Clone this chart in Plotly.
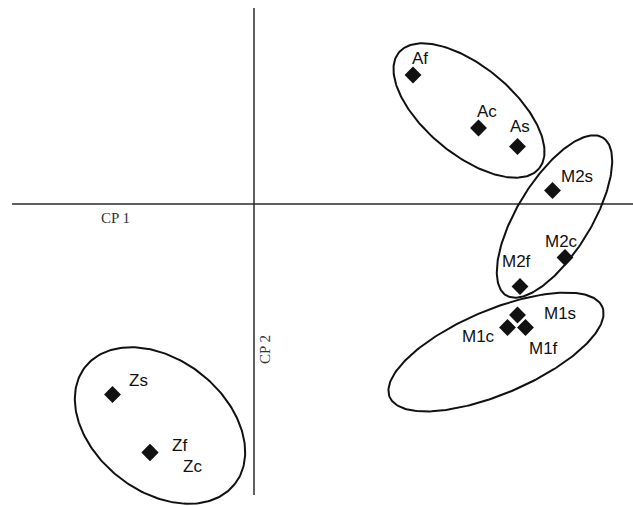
import numpy as np
import plotly.graph_objects as go

# ── data (CP1 / CP2 scores) ───────────────────────────────────
labels = ["Af", "Ac", "As", "M2s", "M2c", "M2f", "M1s", "M1c", "M1f", "Zs", "Zf", "Zc"]
cp1 = [3.18, 4.49, 5.27, 5.97, 6.22, 5.32, 5.27, 5.07, 5.43, -2.83, -2.08, -2.08]
cp2 = [2.58, 1.52, 1.15, 0.27, -1.07, -1.65, -2.22, -2.47, -2.47, -3.81, -4.97, -4.97]

# label offsets in pixels (dx right, dy up)
lab_dx = [7, 8, 2, 24, -4, -4, 42, -29, 18, 26, 29, 42]
lab_dy = [17, 17, 20, 14, 16, 25, 2, -9, -21, 14, 7, -14]

# group ellipses: centre, semi-axes, rotation (deg)
grp_names = ["A", "M2", "M1", "Z"]
grp_cx = [4.30, 6.01, 4.84, -1.88]
grp_cy = [1.87, -0.25, -2.96, -4.43]
grp_a = [1.82, 1.85, 2.31, 1.90]
grp_b = [0.88, 0.74, 0.84, 1.32]
grp_ang = [-39.6, 58.5, 23.0, -38.0]

fig = go.Figure()

# axes drawn as plain lines
AX = dict(color="#2a2a2a", width=1.5)
fig.add_shape(type="line", x0=-4.84, x1=7.6, y0=0, y1=0, line=AX, layer="below")
fig.add_shape(type="line", x0=0, x1=0, y0=3.92, y1=-5.82, line=AX, layer="below")

t = np.linspace(0, 2 * np.pi, 240)
for name, cx, cy, a, b, ang in zip(grp_names, grp_cx, grp_cy, grp_a, grp_b, grp_ang):
    th = np.radians(ang)
    ex = cx + a * np.cos(t) * np.cos(th) - b * np.sin(t) * np.sin(th)
    ey = cy + a * np.cos(t) * np.sin(th) + b * np.sin(t) * np.cos(th)
    fig.add_trace(go.Scatter(
        x=ex, y=ey, mode="lines", name=name,
        line=dict(color="#111111", width=2),
        hoverinfo="skip", showlegend=False,
    ))

fig.add_trace(go.Scatter(
    x=cp1, y=cp2, mode="markers", text=labels,
    marker=dict(symbol="diamond", size=13, color="#111111"),
    hovertemplate="<b>%{text}</b><br>CP1: %{x}<br>CP2: %{y}<extra></extra>",
    showlegend=False,
))

for lab, x, y, dx, dy in zip(labels, cp1, cp2, lab_dx, lab_dy):
    fig.add_annotation(
        x=x, y=y, text=lab, showarrow=False,
        xshift=dx, yshift=dy,
        font=dict(family="Liberation Sans, Arial", size=17, color="#111111"),
    )

fig.add_annotation(
    x=-2.78, y=-0.28, text="CP 1", showarrow=False,
    font=dict(family="Liberation Serif, Times New Roman", size=15, color="#333333"),
)
fig.add_annotation(
    x=0.22, y=-2.92, text="CP 2", showarrow=False, textangle=-90,
    font=dict(family="Liberation Serif, Times New Roman", size=15, color="#333333"),
)

fig.update_layout(
    width=633, height=506,
    margin=dict(t=0, b=0, l=0, r=0),
    plot_bgcolor="white", paper_bgcolor="white",
    xaxis=dict(range=[-5.08, 7.58], visible=False, fixedrange=True),
    yaxis=dict(range=[-6.04, 4.08], visible=False, fixedrange=True),
)

# drop the default 8px page margin so the figure sits at the window corner
fig.write_html(
    "out.html",
    config={"displayModeBar": False},
    post_script="document.body.style.margin='0';",
)
